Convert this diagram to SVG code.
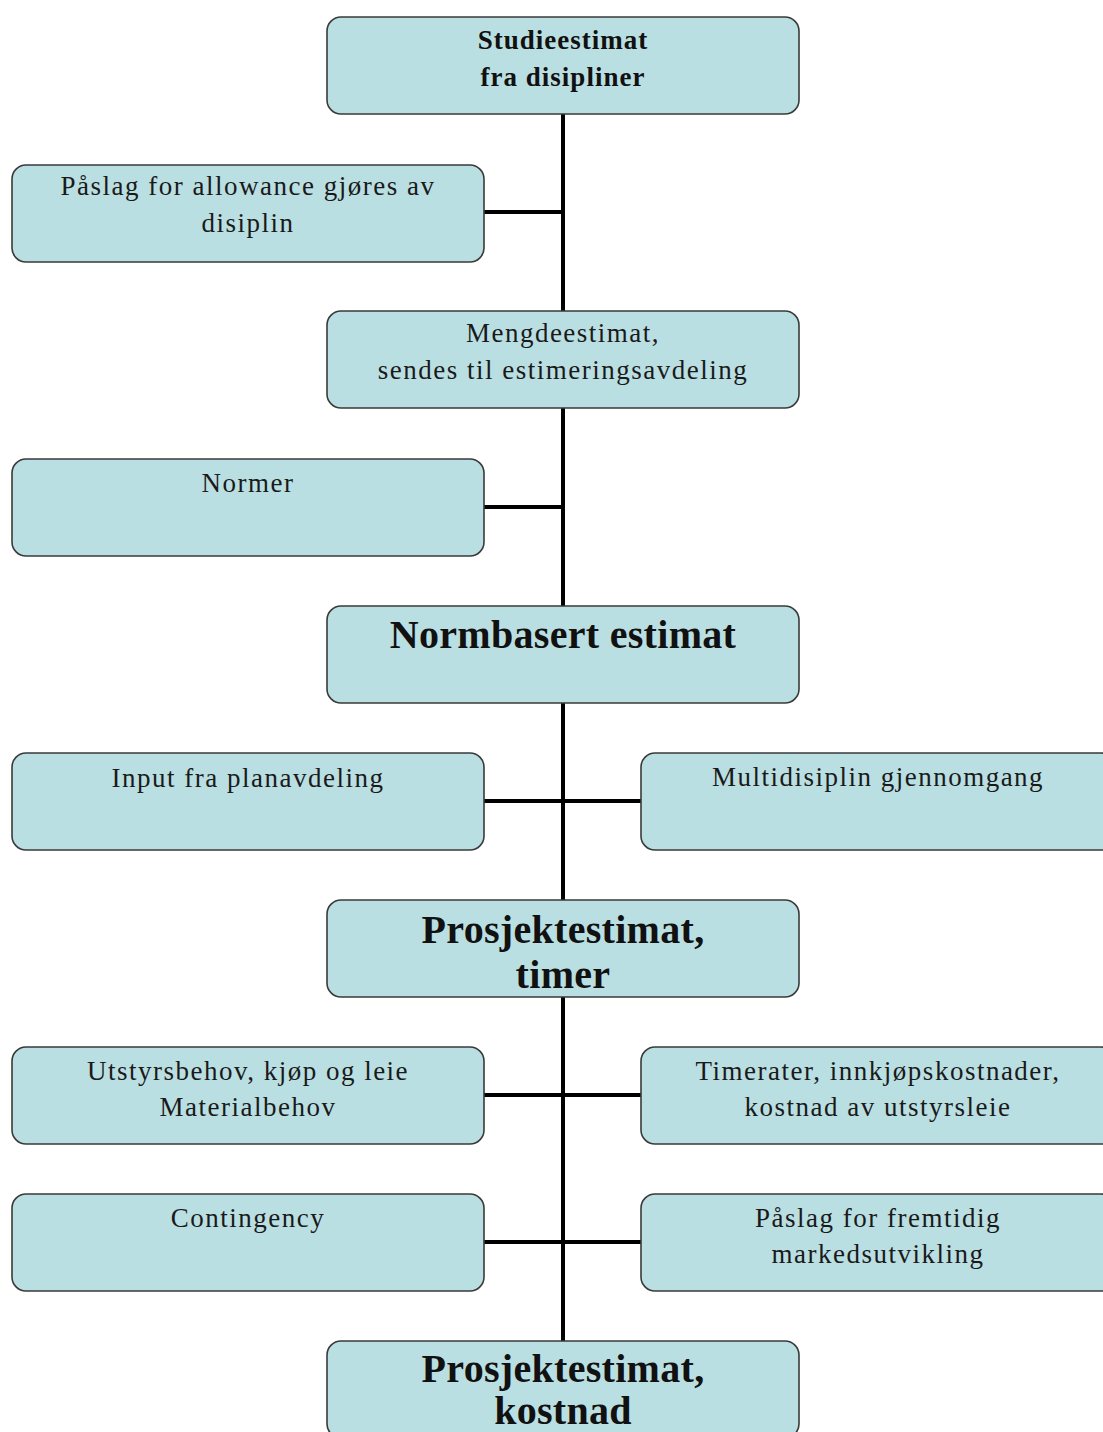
<svg xmlns="http://www.w3.org/2000/svg" width="1103" height="1432" viewBox="0 0 1103 1432">
  <style>
    .box { fill: #badfe2; stroke: #3a3a3a; stroke-width: 1.6; }
    .t { font-family: "Liberation Serif", "Times New Roman", serif; font-size: 27px; fill: #1a1a1a; text-anchor: middle; letter-spacing: 1.5px; }
    .b { font-family: "Liberation Serif", "Times New Roman", serif; font-weight: bold; fill: #111; text-anchor: middle; }
    .s { font-size: 27px; letter-spacing: 1px; }
    .l { font-size: 40px; letter-spacing: 0.3px; }
    .wire { stroke: #000; stroke-width: 4; fill: none; }
  </style>
  <rect width="1103" height="1432" fill="#ffffff"/>

  <!-- spine and side branches -->
  <g id="connectors">
    <line class="wire" x1="563" y1="114" x2="563" y2="1341"/>
    <line class="wire" x1="484" y1="212" x2="563" y2="212"/>
    <line class="wire" x1="484" y1="507" x2="563" y2="507"/>
    <line class="wire" x1="484" y1="801" x2="641" y2="801"/>
    <line class="wire" x1="484" y1="1095" x2="641" y2="1095"/>
    <line class="wire" x1="484" y1="1242" x2="641" y2="1242"/>
  </g>

  <g id="studieestimat">
    <rect class="box" x="327" y="17" width="472" height="97" rx="14"/>
    <text class="b s" x="563" y="49">Studieestimat</text>
    <text class="b s" x="563" y="86">fra disipliner</text>
  </g>

  <g id="paslag-allowance">
    <rect class="box" x="12" y="165" width="472" height="97" rx="14"/>
    <text class="t" x="248" y="195">Påslag for allowance gjøres av</text>
    <text class="t" x="248" y="232">disiplin</text>
  </g>

  <g id="mengdeestimat">
    <rect class="box" x="327" y="311" width="472" height="97" rx="14"/>
    <text class="t" x="563" y="342">Mengdeestimat,</text>
    <text class="t" x="563" y="379">sendes til estimeringsavdeling</text>
  </g>

  <g id="normer">
    <rect class="box" x="12" y="459" width="472" height="97" rx="14"/>
    <text class="t" x="248" y="492">Normer</text>
  </g>

  <g id="normbasert">
    <rect class="box" x="327" y="606" width="472" height="97" rx="14"/>
    <text class="b l" x="563" y="648">Normbasert estimat</text>
  </g>

  <g id="input-planavdeling">
    <rect class="box" x="12" y="753" width="472" height="97" rx="14"/>
    <text class="t" x="248" y="787">Input fra planavdeling</text>
  </g>

  <g id="multidisiplin">
    <rect class="box" x="641" y="753" width="474" height="97" rx="14"/>
    <text class="t" x="878" y="786">Multidisiplin gjennomgang</text>
  </g>

  <g id="prosjektestimat-timer">
    <rect class="box" x="327" y="900" width="472" height="97" rx="14"/>
    <text class="b l" x="563" y="943">Prosjektestimat,</text>
    <text class="b l" x="563" y="988">timer</text>
  </g>

  <g id="utstyrsbehov">
    <rect class="box" x="12" y="1047" width="472" height="97" rx="14"/>
    <text class="t" x="248" y="1080">Utstyrsbehov, kjøp og leie</text>
    <text class="t" x="248" y="1116">Materialbehov</text>
  </g>

  <g id="timerater">
    <rect class="box" x="641" y="1047" width="474" height="97" rx="14"/>
    <text class="t" x="878" y="1080">Timerater, innkjøpskostnader,</text>
    <text class="t" x="878" y="1116">kostnad av utstyrsleie</text>
  </g>

  <g id="contingency">
    <rect class="box" x="12" y="1194" width="472" height="97" rx="14"/>
    <text class="t" x="248" y="1227">Contingency</text>
  </g>

  <g id="paslag-marked">
    <rect class="box" x="641" y="1194" width="474" height="97" rx="14"/>
    <text class="t" x="878" y="1227">Påslag for fremtidig</text>
    <text class="t" x="878" y="1263">markedsutvikling</text>
  </g>

  <g id="prosjektestimat-kostnad">
    <rect class="box" x="327" y="1341" width="472" height="97" rx="14"/>
    <text class="b l" x="563" y="1382">Prosjektestimat,</text>
    <text class="b l" x="563" y="1424">kostnad</text>
  </g>
</svg>
